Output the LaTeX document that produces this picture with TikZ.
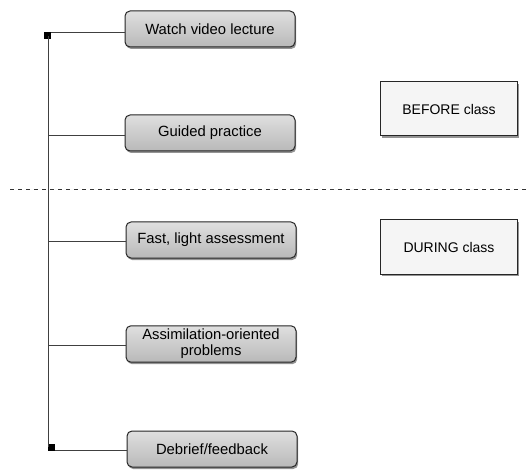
\documentclass[tikz,border=0pt]{standalone}
\usepackage{fontspec}
\setmainfont{Liberation Sans}
\usetikzlibrary{shadows}
\begin{document}
\begin{tikzpicture}[x=1pt,y=-1pt,
  act/.style={draw=black!85, line width=1pt, rounded corners=5pt, minimum width=170pt, minimum height=36pt,
    top color=gray!25, bottom color=gray!55, align=center, font=\fontsize{14.8}{16}\selectfont,
    drop shadow={shadow xshift=1.2pt, shadow yshift=-2pt, fill=black!70, opacity=0.6}},
  phase/.style={draw=black!85, line width=1pt, minimum width=137pt, minimum height=54pt,
    fill=gray!8, font=\fontsize{14}{16}\selectfont,
    drop shadow={shadow xshift=1.2pt, shadow yshift=-2pt, fill=black!70, opacity=0.6}},
  conn/.style={draw=black!75, line width=0.7pt},
  sq/.style={fill=black, inner sep=0pt, minimum size=7pt}]
\useasboundingbox (0,0) rectangle (530,473);
\node[act] (watch) at (210,29) {Watch video lecture};
\node[act] (guided) at (210,133) {Guided practice};
\node[act] (fast) at (211,240) {Fast, light assessment};
\node[act] (assim) at (211,344) {Assimilation-oriented\\problems};
\node[act] (debrief) at (212,449) {Debrief/feedback};
\node[phase] (before) at (449,109) {BEFORE class};
\node[phase] (during) at (449,247) {DURING class};
\node[sq] (top) at (47,36) {};
\node[sq] (bot) at (51,447) {};
\coordinate (j1) at (48,30);
\coordinate (j2) at (48,135);
\coordinate (j3) at (48,241);
\coordinate (j4) at (48,345);
\coordinate (j5) at (51,452);
\draw[conn] (top.north east) -- (top.north east -| watch.west);
\draw[conn] (48,36) -- (48,447);
\draw[conn] (j2) -- (j2 -| guided.west);
\draw[conn] (j3) -- (j3 -| fast.west);
\draw[conn] (j4) -- (j4 -| assim.west);
\draw[conn] (bot.south east) -- (bot.south east -| debrief.west);
\coordinate (dl) at (10,189);
\coordinate (dr) at (530,189);
\draw[black!80, line width=0.8pt, dash pattern=on 4pt off 4pt] (dl) -- (dr);
\end{tikzpicture}
\end{document}
